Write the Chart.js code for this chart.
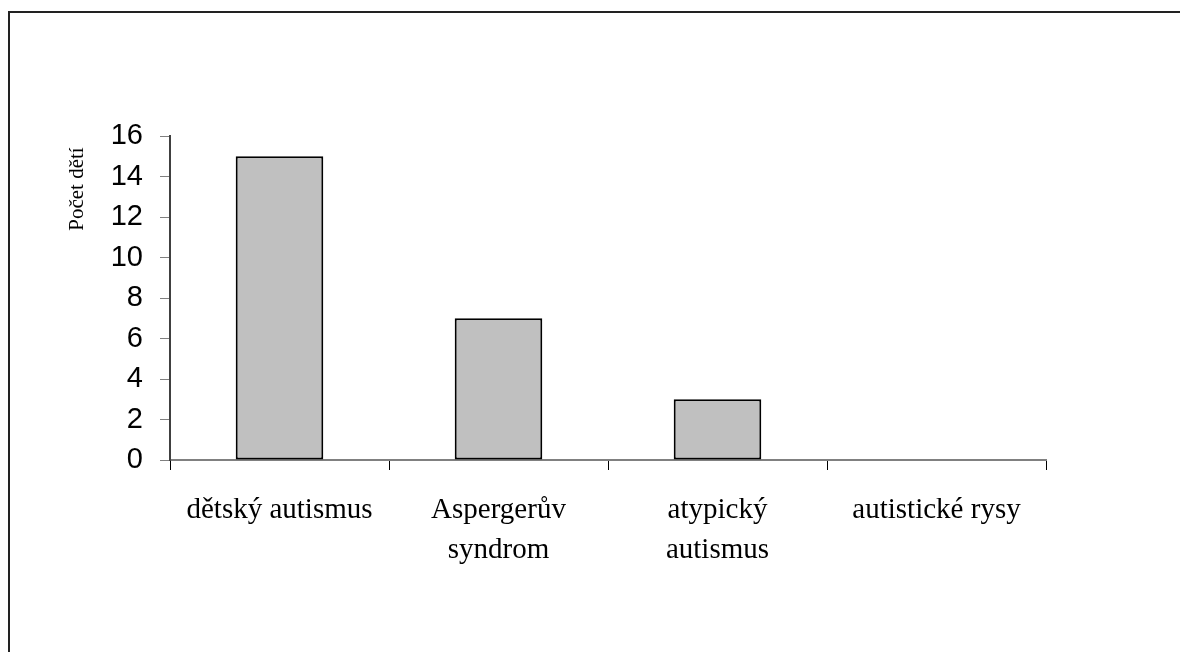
<!DOCTYPE html>
<html lang="cs">
<head>
<meta charset="utf-8">
<title>Počet dětí podle diagnózy</title>
<script src="https://cdn.jsdelivr.net/npm/chart.js@4/dist/chart.umd.min.js"></script>
<style>
  html, body { margin: 0; padding: 0; background: #ffffff; }
  #wrap { width: 1180px; height: 652px; position: relative; }
</style>
</head>
<body>
<div id="wrap"><canvas id="chart" width="1180" height="652"></canvas></div>
<script>
// Diagnózy a počty dětí
const categories = [
  ['dětský autismus'],
  ['Aspergerův', 'syndrom'],
  ['atypický', 'autismus'],
  ['autistické rysy']
];
const counts = [15, 7, 3, 0];
const yTicks = [0, 2, 4, 6, 8, 10, 12, 14, 16];
const yTitle = 'Počet dětí';

// Outer frame (left and top edges) and the rotated axis title
const decorations = {
  id: 'decorations',
  afterDraw(chart) {
    const ctx = chart.ctx;
    ctx.save();
    ctx.strokeStyle = '#222';
    ctx.lineWidth = 2;
    ctx.beginPath();
    ctx.moveTo(9, 660);
    ctx.lineTo(9, 12);
    ctx.lineTo(1190, 12);
    ctx.stroke();

    ctx.fillStyle = '#000';
    ctx.font = '21px "Liberation Serif", "Times New Roman", serif';
    ctx.textAlign = 'center';
    ctx.textBaseline = 'middle';
    ctx.translate(77, 189);
    ctx.rotate(-Math.PI / 2);
    ctx.fillText(yTitle, 0, 0);
    ctx.restore();
  }
};

new Chart(document.getElementById('chart'), {
  type: 'bar',
  data: {
    labels: categories,
    datasets: [{
      data: counts,
      backgroundColor: '#c0c0c0',
      borderColor: '#000000',
      borderWidth: 2,
      borderSkipped: false,
      categoryPercentage: 1.0,
      barPercentage: 0.4
    }]
  },
  options: {
    responsive: false,
    animation: false,
    events: [],
    layout: { padding: { left: 0, right: 134, top: 136, bottom: 0 } },
    plugins: {
      legend: { display: false },
      tooltip: { enabled: false },
      title: { display: false }
    },
    scales: {
      x: {
        offset: true,
        border: { display: true, color: '#808080', width: 2, z: -1 },
        grid: {
          offset: true,
          drawOnChartArea: false,
          drawTicks: true,
          tickLength: 10,
          tickColor: '#000000',
          lineWidth: 1
        },
        ticks: {
          autoSkip: false,
          maxRotation: 0,
          minRotation: 0,
          padding: 20,
          color: '#000000',
          font: { family: '"Liberation Serif", "Times New Roman", serif', size: 29, lineHeight: '40px' }
        },
        afterFit(scale) { scale.height = 192; }
      },
      y: {
        min: 0,
        max: 16,
        afterBuildTicks(scale) { scale.ticks = yTicks.map(v => ({ value: v })); },
        border: { display: true, color: '#404040', width: 2 },
        grid: {
          drawOnChartArea: false,
          drawTicks: true,
          tickLength: 10,
          tickColor: '#808080',
          lineWidth: 1
        },
        ticks: {
          padding: 17,
          color: '#000000',
          font: { family: '"Liberation Sans", Arial, sans-serif', size: 29 }
        },
        afterFit(scale) { scale.width = 170; }
      }
    }
  },
  plugins: [decorations]
});
</script>
</body>
</html>
